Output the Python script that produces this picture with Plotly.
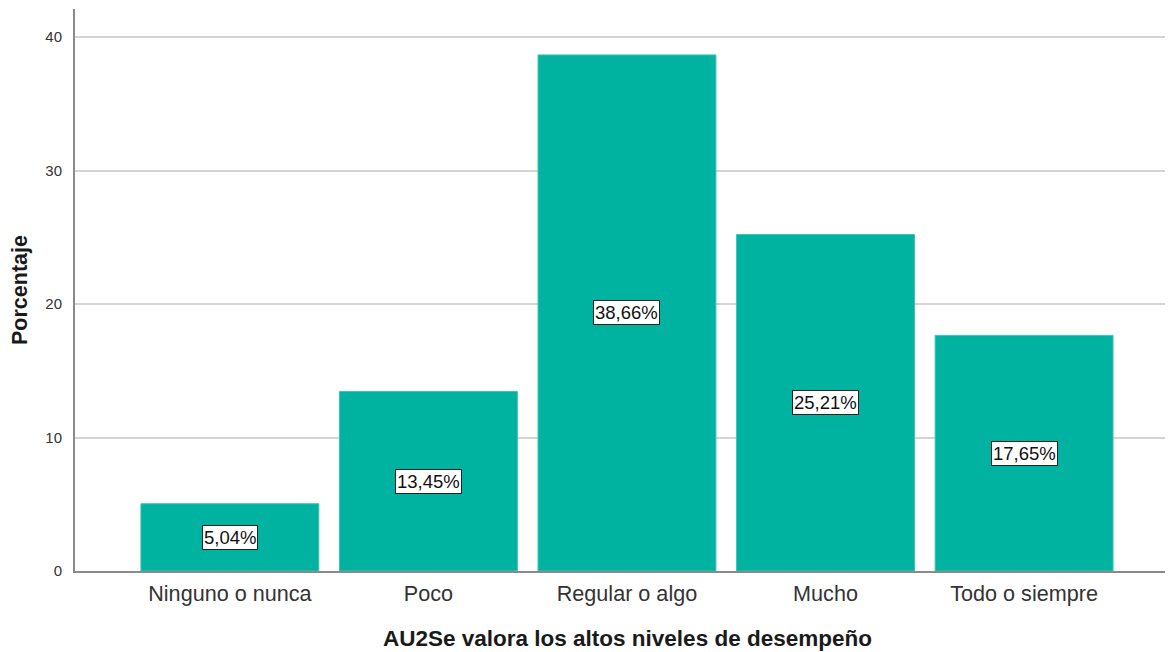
import plotly.graph_objects as go

categories = ["Ninguno o nunca", "Poco", "Regular o algo", "Mucho", "Todo o siempre"]
percentages = [5.04, 13.45, 38.66, 25.21, 17.65]
y_ticks = [0, 10, 20, 30, 40]
x_title = "AU2Se valora los altos niveles de desempeño"
y_title = "Porcentaje"

labels = [f"{v:.2f}%".replace(".", ",") for v in percentages]
FONT = "Liberation Sans, Arial, sans-serif"
BAR = "#00B2A0"

fig = go.Figure()
fig.add_trace(go.Bar(
    x=list(range(len(categories))), y=percentages,
    marker=dict(color=BAR, line=dict(color="#3CC4B4", width=1)),
    hoverinfo="skip", showlegend=False,
))

for i, (v, t) in enumerate(zip(percentages, labels)):
    fig.add_annotation(
        x=i, y=v / 2, text=t, showarrow=False,
        font=dict(family=FONT, size=18.5, color="#111"),
        bgcolor="white", bordercolor="#222", borderwidth=1, borderpad=1,
    )

fig.add_annotation(
    x=0.503, y=0, xref="paper", yref="paper", yshift=-67,
    text=f"<b>{x_title}</b>", showarrow=False,
    font=dict(family=FONT, size=22.5, color="#1a1a1a"),
    xanchor="center", yanchor="middle",
)
fig.add_annotation(
    x=0, y=0.5, xref="paper", yref="paper", xshift=-55,
    text=f"<b>{y_title}</b>", showarrow=False, textangle=-90,
    font=dict(family=FONT, size=21.5, color="#1a1a1a"),
    xanchor="center", yanchor="middle",
)

fig.update_layout(
    width=1165, height=644,
    margin=dict(l=67, r=0, t=1, b=81, autoexpand=False),
    paper_bgcolor="white", plot_bgcolor="white",
    bargap=0.104,
    font=dict(family=FONT, color="#333"),
    xaxis=dict(
        range=[-0.78, 4.75], automargin=False,
        tickmode="array", tickvals=list(range(len(categories))), ticktext=categories,
        tickfont=dict(size=21.6, color="#333"),
        showgrid=False, zeroline=False,
        showline=True, linecolor="#8a8a8a", linewidth=2,
        ticks="", ticklabelstandoff=2,
    ),
    yaxis=dict(
        range=[0, 42.1], automargin=False,
        tickmode="array", tickvals=y_ticks,
        tickfont=dict(size=15, color="#333"),
        showgrid=True, gridcolor="#d4d4d4", gridwidth=2,
        zeroline=False,
        showline=True, linecolor="#8a8a8a", linewidth=2,
        ticks="", ticklabelstandoff=8,
    ),
)

fig.write_html("out.html")
